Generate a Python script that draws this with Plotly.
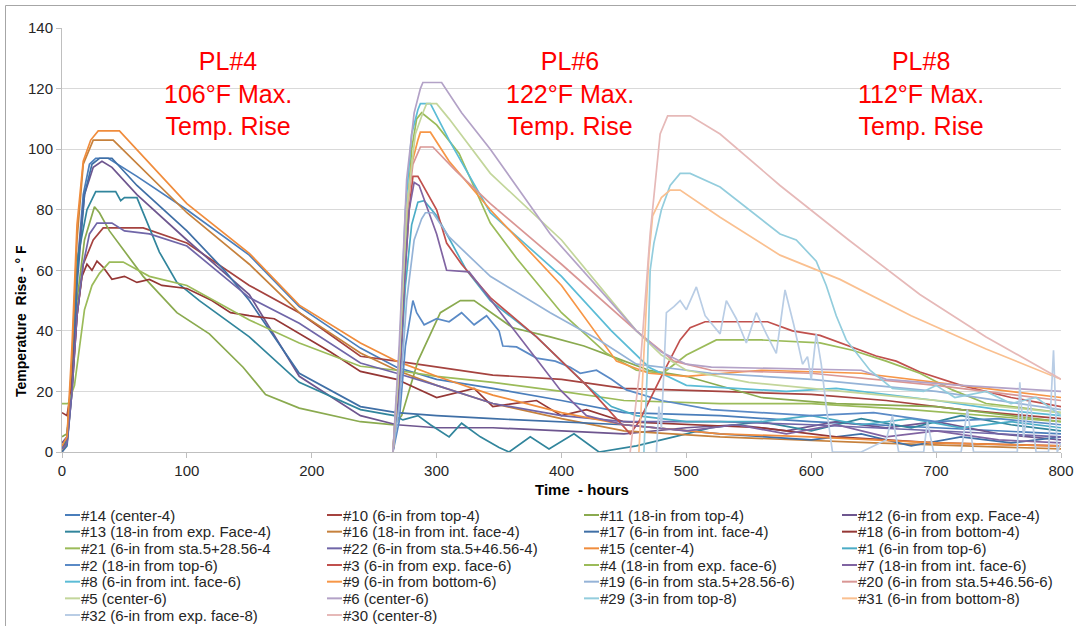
import plotly.graph_objects as go

# Temperature-rise readings: (time in hours, rise in °F) breakpoints per thermocouple
# Placement PL#4 sensors
S14 = [(0,1),(4,4),(8,25),(12,60),(17,85),(22,95),(27,97),(37,97),(60,91),(100,80),(150,65),(190,48),(239,34.3),(268,28),(300,24),(345,21),(400,17),(450,13),(527,12),(600,10),(700,8),(800,6)]
S10 = [(0,2),(4,3),(8,20),(12,45),(17,62),(25,70),(33,74),(65,74),(100,69),(150,55),(190,46),(239,31.6),(268,30),(300,28),(345,25.4),(400,24),(450,21),(527,20),(600,19),(660,17),(720,14),(800,11)]
S11 = [(0,5),(4,6),(8,25),(12,50),(18,70),(26,81),(30,79),(38,73),(65,58),(92,46),(118,39),(145,28),(163,19),(190,14.5),(239,10),(266,9),(272,12),(285,30),(303,46),(319,50),(330,50),(361,41),(391,38),(418,35),(444,31),(470,27),(500,25),(560,18),(620,16),(700,15),(760,12),(800,10)]
S12 = [(0,3),(4,5),(8,25),(12,60),(18,85),(25,94),(32,96),(40,94),(60,85),(100,70),(150,52),(190,25),(239,12),(268,9),(300,8),(345,8),(400,7),(450,6),(500,8),(540,9),(580,7),(620,10),(660,8),(700,10),(750,6),(800,4)]
S13 = [(0,2),(4,4),(8,30),(13,65),(20,80),(27,86),(43,86),(47,83),(50,84),(60,84),(78,66),(92,56),(110,50),(150,38),(190,23),(239,14),(266,12),(273,10.6),(285,12),(295,9),(310,5),(320,9.5),(335,5),(350,1.5),(358,0),(375,5),(390,1),(410,6),(430,0),(460,2),(490,5),(520,8),(560,10),(600,7),(640,11),(680,8),(720,12),(760,9),(800,7)]
S16 = [(0,0),(4,3),(8,30),(12,70),(17,95),(25,103),(41,103),(100,79),(150,62),(190,46),(239,32.7),(268,27),(300,22),(345,16),(400,11),(450,7),(527,5),(650,3),(800,1)]
S17 = [(0,0),(4,2),(8,20),(12,55),(18,85),(24,95),(30,97),(40,97),(60,88),(100,73),(130,60),(150,50),(190,26),(239,15),(268,13),(300,12),(345,11),(400,10),(450,9),(527,6),(600,4),(640,6),(680,2),(720,5),(760,3),(800,5)]
S18 = [(0,13),(4,12),(8,22),(12,45),(16,58),(20,62),(24,60),(28,63),(33,61),(40,57),(50,58),(60,56),(70,57),(80,55),(100,54),(120,50),(135,46),(150,45),(170,44),(190,39),(215,33),(239,26.6),(268,24),(300,18),(330,21),(345,15),(380,17),(400,12),(420,14),(450,10),(500,9),(560,8),(620,5),(700,3),(800,2)]
S21 = [(0,16),(5,16),(10,22),(14,35),(18,47),(24,55),(30,59),(38,62.7),(49,62.7),(70,58),(100,55),(150,43.6),(190,36),(239,28.3),(268,27),(300,25),(345,23),(400,20),(450,17),(527,16),(600,16),(680,14),(740,12),(800,10)]
S22 = [(0,1),(4,3),(8,20),(12,45),(17,62),(22,72),(28,75.6),(40,75.6),(50,73),(70,72),(100,68),(150,51),(190,42.5),(239,29.4),(268,26),(300,22),(345,16),(400,12),(450,10),(527,10),(600,9),(700,7),(800,5)]
S15 = [(0,2),(4,5),(8,35),(12,75),(17,96),(23,103),(29,106),(46,106),(100,82),(150,65.6),(190,48.5),(239,36),(268,30),(300,25),(345,18.8),(400,13),(450,9),(527,6),(600,5),(700,3),(800,2)]

# Placement PL#6 sensors
S1 = [(265,0),(270,20),(275,55),(280,75),(285,82.5),(290,83),(300,78),(324,60),(343,50),(380,38),(420,22),(440,15),(460,12),(500,10),(560,10),(600,12),(640,9),(680,11),(720,8),(760,10),(800,8)]
S2 = [(265,0),(270,10),(275,35),(279,45),(281,50),(284,46),(290,42),(300,44),(310,43),(320,46),(330,42),(340,45),(350,40),(353,35),(364,34.7),(380,31),(395,30),(407,28),(415,26),(428,27),(440,24),(452,20.5),(480,17),(520,14),(560,13),(600,12),(650,13),(700,10),(750,11),(800,9)]
S3 = [(265,0),(270,20),(274,55),(278,80),(281,91),(285,91),(300,80),(308,69),(320,62),(343,51),(380,38),(420,22),(455,6),(462,10),(480,25),(495,37),(503,41),(515,43),(565,43),(585,40),(607,38.5),(633,34.6),(652,31.7),(668,30),(687,26.4),(720,22),(760,18),(800,15)]
S4 = [(265,0),(270,25),(275,70),(280,100),(284,110),(288,112),(300,108),(318,98.6),(343,75.6),(364,64),(400,46),(436,32.6),(460,27),(481,26),(500,32),(524,37),(560,37),(607,36),(633,33.6),(660,30),(687,26),(713,20.5),(740,16),(800,13)]
S7 = [(265,0),(270,20),(274,55),(278,80),(282,89),(286,88),(300,72),(308,60),(326,59.5),(364,39),(399,20.5),(420,12),(450,9),(500,7),(540,9),(580,6),(620,9),(660,5),(700,7),(750,4),(800,3)]
S8 = [(265,0),(270,30),(275,80),(280,105),(285,113),(287,115),(295,115),(310,103),(343,79),(400,58),(440,40),(470,28),(500,22),(540,21),(580,20),(620,21),(660,19),(700,17),(750,14),(800,12)]
S9 = [(265,0),(270,30),(275,75),(280,95),(285,103),(287,105.6),(295,105.6),(310,96),(343,80),(400,55),(444,30),(470,26),(500,25),(560,27),(640,26),(700,23),(760,20),(800,18)]
S19 = [(265,0),(270,15),(276,50),(282,70),(288,77),(291,79),(297,79),(310,71),(343,58),(391,46),(430,37),(460,29),(520,26),(600,24),(700,20),(800,14)]
S20 = [(265,0),(270,30),(275,75),(281,95),(287,100.7),(297,100.7),(315,93),(343,82),(400,62),(460,40),(490,30),(520,27),(600,26),(700,22),(800,17)]
S5 = [(265,0),(270,30),(276,80),(283,105),(289,112),(292,115),(300,115),(310,110),(343,92),(400,70),(460,40),(480,32),(500,27),(550,23),(650,19),(800,13)]
S6 = [(265,0),(270,35),(276,90),(282,112),(287,120),(289,122),(304,122),(320,112),(343,100),(391,72),(460,40),(480,33),(500,29),(520,28),(640,27),(660,24),(720,22),(800,20)]

# Placement PL#8 sensors
S29 = [(466,0),(469,30),(471,60),(474,69),(480,80),(487,88),(495,92),(503,92),(527,87.5),(575,72),(588,70),(604,63),(612,55),(620,45),(628,37),(647,27),(665,21),(690,20),(700,22),(715,18),(740,20),(760,16),(780,18),(800,12)]
S31 = [(462,0),(466,35),(470,65),(473,78),(480,84),(487,86.5),(495,86.5),(527,77.5),(575,65),(623,57),(680,45),(740,34),(800,24)]
S32 = [(476,0),(478,15),(480,8),(484,46),(490,48),(495,50),(500,47),(508,54.5),(515,45),(527,39),(532,50),(540,44),(548,36),(556,46),(564,39),(572,32.6),(579,53.5),(586,42),(593,29),(597,31.5),(600,24),(604,39),(608,29),(612,15),(617,0),(640,0),(660,4),(665,12),(670,0),(690,0),(693,10),(698,0),(720,0),(725,14),(730,0),(765,0),(767,23),(770,5),(775,18),(780,0),(790,0),(794,33.6),(797,0),(800,3)]
S30 = [(455,0),(463,28),(471,72),(479,105),(485,111),(503,111),(527,105),(575,88),(630,70),(687,52),(740,38),(800,24)]

NAMES = [
    "#14 (center-4)", "#10 (6-in from top-4)", "#11 (18-in from top-4)", "#12 (6-in from exp. Face-4)",
    "#13 (18-in from exp. Face-4)", "#16 (18-in from int. face-4)", "#17 (6-in from int. face-4)", "#18 (6-in from bottom-4)",
    "#21 (6-in from sta.5+28.56-4", "#22 (6-in from sta.5+46.56-4)", "#15 (center-4)", "#1 (6-in from top-6)",
    "#2 (18-in from top-6)", "#3 (6-in from exp. face-6)", "#4 (18-in from exp. face-6)", "#7 (18-in from int. face-6)",
    "#8 (6-in from int. face-6)", "#9 (6-in from bottom-6)", "#19 (6-in from sta.5+28.56-6)", "#20 (6-in from sta.5+46.56-6)",
    "#5 (center-6)", "#6 (center-6)", "#29 (3-in from top-8)", "#31 (6-in from bottom-8)",
    "#32 (6-in from exp. face-8)", "#30 (center-8)",
]
SERIES = [S14, S10, S11, S12, S13, S16, S17, S18, S21, S22, S15, S1,
          S2, S3, S4, S7, S8, S9, S19, S20, S5, S6, S29, S31, S32, S30]
COLORS = [
    "#4A7EBB", "#A5433F", "#8AAA4F", "#6E568F",
    "#31859C", "#C6813C", "#3F6FA6", "#953735",
    "#9BBB59", "#7066A8", "#F08C3C", "#4BACC6",
    "#5A8AC6", "#C0504D", "#9BBB59", "#8064A2",
    "#5BBCD6", "#F79646", "#95B3D7", "#D99694",
    "#C3D69B", "#B3A2C7", "#93CDDD", "#FAC090",
    "#B9CDE5", "#E6B9B8",
]

PEAK_NOTES = ["PL#4<br>106°F Max.<br>Temp. Rise",
              "PL#6<br>122°F Max.<br>Temp. Rise",
              "PL#8<br>112°F Max.<br>Temp. Rise"]

FONT = "Liberation Sans, Arial, sans-serif"
W, H = 1076, 626
L, R, T, B = 62, 15, 28, 174
PW, PH = W - L - R, H - T - B


def pxx(x):
    return (x - L) / PW


def pxy(y):
    return (H - B - y) / PH


fig = go.Figure()
for name, pts, col in zip(NAMES, SERIES, COLORS):
    fig.add_trace(go.Scatter(
        x=[p[0] for p in pts], y=[p[1] for p in pts], mode="lines", name=name,
        line=dict(color=col, width=1.7), showlegend=False, hoverinfo="x+y+name"))

annotations = []
shapes = []

# Placement callouts
for txt, cx in zip(PEAK_NOTES, [228, 570, 921]):
    annotations.append(dict(text=txt, x=pxx(cx), y=pxy(93), xref="paper", yref="paper",
                            xanchor="center", yanchor="middle", showarrow=False,
                            font=dict(family=FONT, size=25, color="#FF0000")))

# Axis titles
annotations.append(dict(text="<b>Temperature  Rise - ° F</b>", x=pxx(21), y=pxy(321),
                        xref="paper", yref="paper", textangle=-90, showarrow=False,
                        xanchor="center", yanchor="middle",
                        font=dict(family=FONT, size=14, color="#000000")))
annotations.append(dict(text="<b>Time  - hours</b>", x=pxx(582), y=pxy(490),
                        xref="paper", yref="paper", showarrow=False,
                        xanchor="center", yanchor="middle",
                        font=dict(family=FONT, size=15, color="#000000")))

# Legend in four columns below the axes
col_text_x = [81, 343, 600, 858]
for i, (name, col) in enumerate(zip(NAMES, COLORS)):
    r, c = divmod(i, 4)
    ry = 515 + 16.67 * r
    tx = col_text_x[c]
    shapes.append(dict(type="line", xref="paper", yref="paper",
                       x0=pxx(tx - 16), x1=pxx(tx - 1), y0=pxy(ry), y1=pxy(ry),
                       line=dict(color=col, width=2)))
    annotations.append(dict(text=name, x=pxx(tx - 2), y=pxy(ry), xref="paper", yref="paper",
                            xanchor="left", yanchor="middle", showarrow=False,
                            font=dict(family=FONT, size=15, color="#262626")))

# Outer chart frame
shapes.append(dict(type="rect", xref="paper", yref="paper",
                   x0=pxx(5.5), x1=pxx(1100), y0=pxy(660), y1=pxy(5.5),
                   line=dict(color="#A6A6A6", width=1), fillcolor="rgba(0,0,0,0)"))

fig.update_layout(
    width=W, height=H,
    margin=dict(l=L, r=R, t=T, b=B, pad=0, autoexpand=False),
    paper_bgcolor="white", plot_bgcolor="white",
    font=dict(family=FONT, size=15, color="#262626"),
    showlegend=False,
    annotations=annotations, shapes=shapes,
    xaxis=dict(range=[0, 800], dtick=100, tick0=0, showgrid=False, zeroline=False,
               automargin=False,
               showline=True, linecolor="#BFBFBF", linewidth=1,
               ticks="outside", ticklen=5, tickcolor="#BFBFBF",
               tickfont=dict(family=FONT, size=15, color="#262626")),
    yaxis=dict(range=[0, 140], dtick=20, tick0=0, showgrid=True, gridcolor="#D9D9D9",
               gridwidth=1, zeroline=False, showline=True, linecolor="#BFBFBF", linewidth=1,
               automargin=False,
               ticks="outside", ticklen=5, tickcolor="#BFBFBF",
               tickfont=dict(family=FONT, size=15, color="#262626")),
)

fig.write_html("out.html")
